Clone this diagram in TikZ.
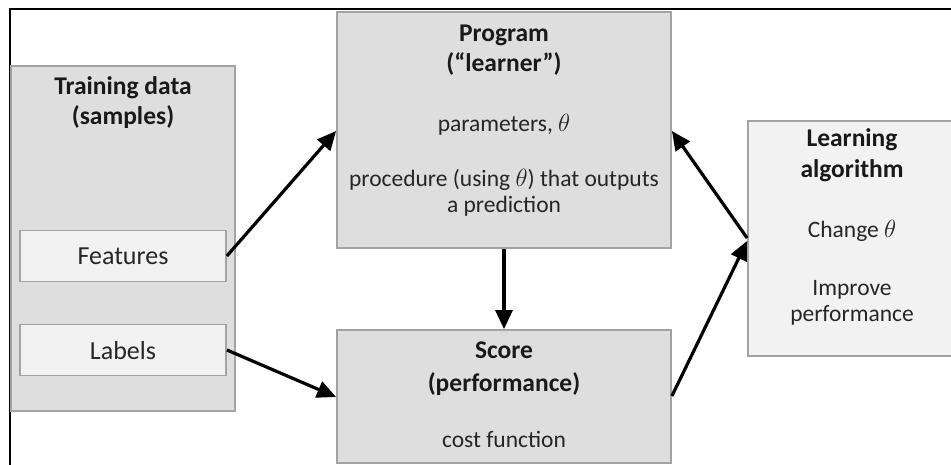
\documentclass[tikz,border=0pt]{standalone}
\usepackage{fontspec}
\setmainfont{Carlito}
\usetikzlibrary{arrows.meta}
\definecolor{boxdark}{HTML}{DEDEDE}
\definecolor{boxlight}{HTML}{F2F2F2}
\definecolor{boxedge}{HTML}{A3A3A3}
\tikzset{
  darkbox/.style={draw=boxedge, fill=boxdark, line width=1.8pt},
  lightbox/.style={draw=boxedge, fill=boxlight, line width=1.8pt},
  boldtxt/.style={anchor=base, font=\fontsize{25.5}{30}\selectfont\bfseries, text=black!90, inner sep=0pt},
  regtxt/.style={anchor=base, font=\fontsize{23.5}{28}\selectfont, text=black!85, inner sep=0pt},
  itemtxt/.style={anchor=base, font=\fontsize{26}{30}\selectfont, text=black!85, inner sep=0pt},
  flow/.style={line width=3.2pt, -{Triangle[length=19pt,width=17pt]}},
}
\begin{document}
\begin{tikzpicture}[x=1pt,y=-1pt]
\useasboundingbox (0,0) rectangle (951,465);
\clip (0,0) rectangle (951,465);
\fill[white] (0,0) rectangle (951,465);
% outer frame (top and left lines)
\draw[line width=1.6pt, black] (10,470) -- (10,9) -- (960,9);

% boxes
\path[darkbox] (11,66) rectangle (235,411);
\node[lightbox, minimum width=206pt, minimum height=51pt, inner sep=0pt] (feat) at (123,256) {};
\node[lightbox, minimum width=206pt, minimum height=51pt, inner sep=0pt] (lab) at (123,350) {};
\node[darkbox, minimum width=334pt, minimum height=236pt, inner sep=0pt] (prog) at (504,130) {};
\node[darkbox, minimum width=334pt, minimum height=133pt, inner sep=0pt] (score) at (504,396.5) {};
\node[lightbox, minimum width=214pt, minimum height=235pt, inner sep=0pt] (learn) at (855,238.5) {};

% texts
\node[boldtxt] (t1) at (123,95) {Training data};
\node[boldtxt] (t2) at (123,125) {(samples)};
\node[itemtxt] (t3) at (123,265) {Features};
\node[itemtxt] (t4) at (123,359) {Labels};

\node[boldtxt] (p1) at (504,42) {Program};
\node[boldtxt] (p2) at (504,72) {(“learner”)};
\node[regtxt] (p3) at (504,132) {parameters, $\theta$};
\node[regtxt] (p4) at (504,187) {procedure (using $\theta$) that outputs};
\node[regtxt] (p5) at (504,213) {a prediction};

\node[boldtxt] (s1) at (504,358) {Score};
\node[boldtxt] (s2) at (504,391) {(performance)};
\node[regtxt] (s3) at (504,447) {cost function};

\node[boldtxt] (l1) at (852,147) {Learning};
\node[boldtxt] (l2) at (852,178) {algorithm};
\node[regtxt] (l3) at (852,238) {Change $\theta$};
\node[regtxt] (l4) at (852,295) {Improve};
\node[regtxt] (l5) at (852,321) {performance};

% connectors
\draw[flow] (feat.east) -- (prog.west |- 0,131);
\draw[flow] (lab.east) -- (score.west |- 0,397);
\draw[flow] (prog.south) -- (score.north);
\draw[flow] (learn.west |- 0,238) -- (prog.east |- 0,131);
\draw[flow] (score.east |- 0,396) -- (learn.west |- 0,241);
\end{tikzpicture}
\end{document}
